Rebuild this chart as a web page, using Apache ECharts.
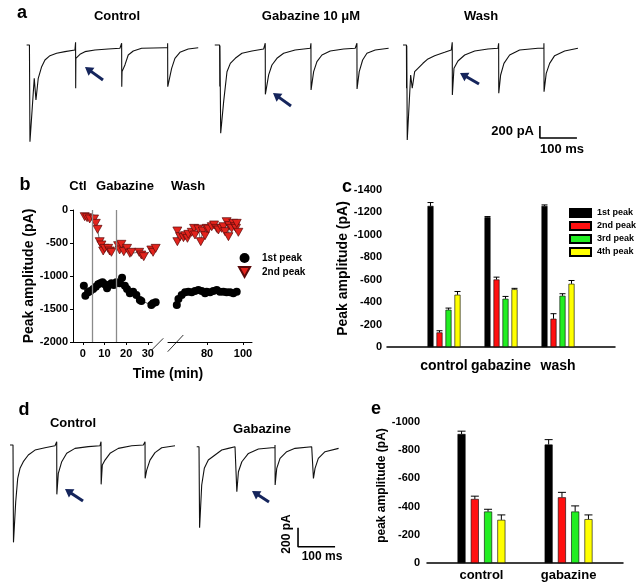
<!DOCTYPE html>
<html><head><meta charset="utf-8">
<script src="https://cdn.jsdelivr.net/npm/echarts@6/dist/echarts.min.js"></script>
<style>html,body{margin:0;padding:0;background:#fff}#c{width:638px;height:583px}</style>
</head><body><div id="c"></div>
<script>
// ---------- DATA ----------
// Panel a traces: [time (ms), current (pA)]
const aControl = [[-9,33],[-1.4,33],[0,-1581],[11.6,-523],[16.2,-885],[22.4,-523],[31.6,-329],[40.5,-217],[54,-145],[72,-105],[94.5,-78],[121.5,-50],[123.2,78],[123.5,-690],[124,-189],[135,-122],[148.5,-78],[175.5,-50],[211,-33],[243,-22],[247.4,-22],[247.6,62],[247.9,-663],[248.7,-412],[256.5,-300],[265.4,-134],[279,-67],[301.6,-22],[364.5,-12],[371.6,-12],[371.8,62],[372.1,-663],[375,-580],[382.6,-356],[391.5,-189],[405,-89],[427.4,-33],[454.4,-12]];
const aGabazine = [[-14,33],[-1,33],[-0.5,-660],[0,20],[2,-1441],[10,-913],[19,-414],[28,-274],[41.3,-189],[59.4,-105],[86.4,-67],[118,-33],[122,-33],[122.3,62],[122.6,-790],[131.5,-467],[140.4,-301],[153.9,-189],[172,-105],[203,-50],[244,-22],[245.5,-22],[245.7,62],[246,-718],[253,-412],[261.9,-245],[275.4,-134],[297.8,-67],[334,-33],[365.3,-22],[369.7,-22],[369.9,62],[370.2,-701],[376.1,-412],[385.3,-217],[396.9,-105],[419.3,-50],[455.5,-22]];
const aWash = [[-10.8,33],[-1.4,33],[-1,-690],[-0.5,20],[0.8,-1553],[10,-467],[14.3,-689],[20.8,-412],[29.7,-356],[43.2,-272],[56.7,-200],[74.8,-145],[101.8,-89],[119.7,-50],[122.1,-50],[122.3,78],[122.6,-802],[127,-356],[137.7,-234],[155.9,-134],[182.9,-67],[218.7,-33],[245.7,-22],[247.4,-22],[247.6,62],[247.9,-773],[253,-468],[261.9,-273],[277.3,-134],[304.3,-50],[353.7,-22],[369.7,-22],[369.9,62],[370.2,-746],[376.1,-440],[385.3,-273],[398.8,-145],[425.8,-67],[461.7,-22]];
const aScaleBar = [[359,-1320],[359,-1520],[459,-1520]];   // 200 pA / 100 ms

// Panel b: [time (min), peak amplitude (pA)]
const bFirstEarly = [[0.5,-1146],[1.2,-1298],[2.5,-1247],[3.5,-1227],[4.8,-1197],[6.0,-1162],[7.1,-1126],[8.1,-1111],[9.1,-1096],[10.1,-1126],[11.2,-1187],[12.1,-1136],[13.2,-1111],[14.3,-1136],[15.5,-1096],[17.0,-1111],[18.1,-1025],[19.4,-1146],[20.4,-1197],[21.7,-1263],[23.2,-1237],[24.7,-1288],[26.3,-1364],[27.0,-1379],[31.6,-1439],[32.4,-1414],[33.6,-1399]];
const bSecondEarly = [[0.9,-101],[2.0,-116],[3.2,-136],[5.2,-136],[6.0,-202],[6.8,-293],[7.8,-480],[8.6,-530],[9.4,-621],[10.1,-581],[11.7,-581],[12.4,-621],[13.2,-641],[16.3,-540],[17.0,-606],[17.8,-520],[18.9,-631],[20.4,-581],[21.7,-656],[22.4,-641],[26.0,-641],[27.0,-682],[28.1,-707],[31.6,-606],[32.4,-641],[33.6,-581]];
const bFirstLate = [[63.2,-1439],[64.1,-1348],[65.9,-1288],[67.8,-1247],[69.6,-1237],[71.5,-1247],[73.3,-1227],[75.2,-1212],[77.0,-1227],[78.9,-1263],[79.8,-1237],[81.7,-1247],[83.5,-1227],[85.4,-1212],[87.2,-1237],[89.1,-1237],[90.9,-1247],[92.8,-1247],[94.6,-1263],[96.5,-1237]];
const bSecondLate = [[63.5,-480],[63.5,-318],[65.0,-404],[66.9,-419],[67.8,-389],[69.1,-429],[69.6,-369],[71.5,-338],[72.8,-278],[73.3,-379],[75.2,-288],[76.5,-480],[77.6,-318],[78.9,-389],[79.8,-278],[80.7,-288],[82.6,-253],[83.9,-227],[85.4,-278],[86.3,-303],[88.1,-278],[89.1,-253],[90.0,-328],[90.9,-177],[91.9,-404],[92.4,-237],[93.7,-278],[94.6,-202],[95.6,-253],[96.1,-278],[96.5,-202],[97.4,-338]];
const bDrugLines = [4.5, 15.5];
const bTicksEarly = [0, 10, 20, 30];
const bTicksLate = [80, 100];

// Panel c
const peakNames = ['1st peak', '2nd peak', '3rd peak', '4th peak'];
const cSlots = ['', 'control', 'gabazine', 'wash', ''];
const cMeans = [[-1258,-1157,-1258],[-130,-602,-252],[-332,-430,-457],[-466,-515,-564]];
const cErrs  = [[30,6,9],[15,21,45],[15,21,18],[29,8,29]];

// Panel d traces
const dControl = [[-8.9,0],[-0.8,0],[0.5,-1022],[6.5,-595],[11.9,-350],[18.1,-245],[27,-175],[40.5,-105],[58.6,-53],[85.6,-28],[112.6,-7],[117,-7],[117.2,35],[117.5,-518],[121.5,-298],[130.7,-175],[144.2,-87],[166.6,-35],[202.5,-17],[234.1,-7],[236.6,-7],[236.8,35],[237.1,-413],[240.3,-210],[247.6,-158],[261.1,-87],[283.5,-35],[319.7,-7],[351,0],[355.4,0],[355.6,35],[355.9,-350],[360.1,-263],[369,-158],[382.5,-80],[400.6,-28],[436.5,-7]];
const dGabazine = [[-7,0],[-0.8,0],[0.8,-851],[6.5,-402],[13.5,-227],[24.3,-140],[42.4,-87],[60.5,-35],[78.3,-17],[96.4,0],[100.8,0],[101,18],[101.3,-472],[105.6,-263],[114.8,-158],[132.6,-70],[159.6,-24],[195.8,-10],[204.2,-10],[204.4,18],[204.7,-402],[209,-227],[217.9,-122],[236,-52],[258.4,-17],[303.4,0],[307.6,0],[307.8,18],[308.1,-332],[312.4,-227],[321.3,-122],[339.4,-52],[376,-17]];
const dScaleBar = [[266.5,-850],[266.5,-1050],[366.5,-1050]];

// Panel e
const eSlots = ['', '', 'control', '', '', '', 'gabazine', '', ''];
const eGroupSlot = [2, 6];
const eMeans = [[-915,-840],[-454,-466],[-365,-365],[-306,-311]];
const eErrs  = [[20,35],[20,35],[16,40],[35,30]];

// ---------- STYLE ----------
const F = "'Liberation Sans', Arial, Helvetica, sans-serif";
const barColors = ['#000000', '#ff1010', '#22ee22', '#ffff00'];
const TRI = 'path://M0,0L10,0L5,9Z';
const navy = '#15255c';
const plain = v => String(v);

const chart = echarts.init(document.getElementById('c'), null, {renderer: 'canvas'});

function hiddenX(g, min, max) { return {type:'value', gridIndex:g, min, max, show:false}; }
function hiddenY(g, min, max) { return {type:'value', gridIndex:g, min, max, show:false}; }
const lbl = (size, margin) => ({fontWeight:'bold', fontSize:size, color:'#000', fontFamily:F, margin, formatter:plain});
const blackLine = {show:true, onZero:false, lineStyle:{color:'#000', width:1}};

function trace(name, g, data) {
  return {type:'line', name, xAxisIndex:g, yAxisIndex:g, data, symbol:'none', clip:false,
    lineStyle:{color:'#111', width:1.1}, z:2};
}
function scaleBar(g, data) {
  return {type:'line', xAxisIndex:g, yAxisIndex:g, data, symbol:'none', clip:false,
    lineStyle:{color:'#000', width:1.6}};
}
function errSeries(g, items, offsets, cap) {
  return {type:'custom', xAxisIndex:g, yAxisIndex:g, data:items, z:5, clip:false,
    renderItem(params, api) {
      const slot = api.value(0), v = api.value(1), e = api.value(2), k = api.value(3);
      const p0 = api.coord([slot, v]), p1 = api.coord([slot, v - e]);
      const x = p0[0] + offsets[k];
      return {type:'group', children:[
        {type:'line', shape:{x1:x, y1:p0[1], x2:x, y2:p1[1]}, style:{stroke:'#000', lineWidth:1}},
        {type:'line', shape:{x1:x-cap, y1:p1[1], x2:x+cap, y2:p1[1]}, style:{stroke:'#000', lineWidth:1}}
      ]};
    }};
}

// bars c
const cSeries = [], cErrItems = [];
peakNames.forEach((n, k) => {
  const data = cSlots.map(() => '-');
  cMeans[k].forEach((v, gi) => { data[gi + 1] = v; cErrItems.push([gi + 1, v, cErrs[k][gi], k]); });
  cSeries.push({type:'bar', name:'c ' + n, xAxisIndex:5, yAxisIndex:5, data, barWidth:6, barGap:'50%',
    itemStyle:{color:barColors[k], borderColor:'#000', borderWidth:0.6}});
});
// bars e
const eSeries = [], eErrItems = [];
peakNames.forEach((n, k) => {
  const data = eSlots.map(() => '-');
  eMeans[k].forEach((v, gi) => { data[eGroupSlot[gi]] = v; eErrItems.push([eGroupSlot[gi], v, eErrs[k][gi], k]); });
  eSeries.push({type:'bar', name:'e ' + n, xAxisIndex:8, yAxisIndex:8, data, barWidth:8, barGap:'66%',
    itemStyle:{color:barColors[k], borderColor:'#000', borderWidth:0.6}});
});

// graphic helpers
function txt(x, y, s, size, align, rot) {
  const o = {type:'text', x, y, silent:true, style:{text:s, font:`bold ${size}px ${F}`, fill:'#000',
    align:align || 'center', verticalAlign:'middle', textAlign:align || 'center', textVerticalAlign:'middle'}};
  if (rot) o.rotation = rot;
  return o;
}
function arrow(tx, ty, sx, sy) {
  const dx = tx - sx, dy = ty - sy, L = Math.hypot(dx, dy), ux = dx / L, uy = dy / L;
  const hl = 8, hw = 5, bx = tx - ux * hl, by = ty - uy * hl;
  return {type:'group', silent:true, children:[
    {type:'line', shape:{x1:sx, y1:sy, x2:bx + ux, y2:by + uy}, style:{stroke:navy, lineWidth:3}},
    {type:'polygon', shape:{points:[[tx, ty], [bx - uy * hw, by + ux * hw], [bx + uy * hw, by - ux * hw]]}, style:{fill:navy}}
  ]};
}
function seg(x1, y1, x2, y2) {
  return {type:'line', silent:true, shape:{x1, y1, x2, y2}, style:{stroke:'#333', lineWidth:1}};
}

const option = {
  animation:false,
  backgroundColor:'#fff',
  grid:[
    {left:24.4, top:35, width:179.6, height:113.8},
    {left:214.4, top:35, width:179.6, height:113.8},
    {left:401.4, top:35, width:179.6, height:113.8},
    {left:73, top:210, width:79.2, height:132},
    {left:168, top:210, width:84, height:132},
    {left:387, top:190, width:228, height:157},
    {left:9.6, top:435.5, width:170.4, height:114.3},
    {left:195.6, top:437.2, width:170.4, height:114.3},
    {left:427, top:422, width:196, height:141}
  ],
  xAxis:[
    hiddenX(0, -15, 470), hiddenX(1, -15, 470), hiddenX(2, -15, 470),
    {type:'value', gridIndex:3, min:-4.5, max:32, axisLine:blackLine,
      axisTick:{show:true, length:3, customValues:bTicksEarly, lineStyle:{color:'#000'}},
      axisLabel:Object.assign(lbl(11, 6), {customValues:bTicksEarly}), splitLine:{show:false}},
    {type:'value', gridIndex:4, min:58.3, max:105, axisLine:blackLine,
      axisTick:{show:true, length:3, customValues:bTicksLate, lineStyle:{color:'#000'}},
      axisLabel:Object.assign(lbl(11, 6), {customValues:bTicksLate}), splitLine:{show:false}},
    {type:'category', gridIndex:5, data:cSlots, boundaryGap:false,
      axisLine:{onZero:false, lineStyle:{color:'#000', width:1.5}}, axisTick:{show:false},
      axisLabel:{fontWeight:'bold', fontSize:14, color:'#000', fontFamily:F, margin:12, interval:0}},
    hiddenX(6, -10, 450), hiddenX(7, -10, 450),
    {type:'category', gridIndex:8, data:eSlots, boundaryGap:true,
      axisLine:{onZero:false, lineStyle:{color:'#000', width:1.5}}, axisTick:{show:false},
      axisLabel:{fontWeight:'bold', fontSize:13, color:'#000', fontFamily:F, margin:6, interval:0}}
  ],
  yAxis:[
    hiddenY(0, -1700, 200), hiddenY(1, -1700, 200), hiddenY(2, -1700, 200),
    {type:'value', gridIndex:3, min:-2000, max:0, interval:500, axisLine:blackLine,
      axisTick:{show:true, length:3, lineStyle:{color:'#000'}}, axisLabel:lbl(11, 5), splitLine:{show:false},
      name:'Peak amplitude (pA)', nameLocation:'middle', nameGap:37,
      nameTextStyle:{fontWeight:'bold', fontSize:14, color:'#000', fontFamily:F}},
    hiddenY(4, -2000, 0),
    {type:'value', gridIndex:5, inverse:true, min:-1400, max:0, interval:200,
      axisLine:{show:false}, axisTick:{show:false}, splitLine:{show:false}, axisLabel:lbl(11, 5),
      name:'Peak amplitude (pA)', nameLocation:'middle', nameGap:37,
      nameTextStyle:{fontWeight:'bold', fontSize:14, color:'#000', fontFamily:F}},
    hiddenY(6, -1100, 100), hiddenY(7, -1100, 100),
    {type:'value', gridIndex:8, inverse:true, min:-1000, max:0, interval:200,
      axisLine:{show:false}, axisTick:{show:false}, splitLine:{show:false}, axisLabel:lbl(11, 7),
      name:'peak amplitude (pA)', nameLocation:'middle', nameGap:38,
      nameTextStyle:{fontWeight:'bold', fontSize:12, color:'#000', fontFamily:F, padding:[0,0,0,14]}}
  ],
  legend:[
    {left:238, top:253, padding:0, orient:'vertical', itemWidth:25, itemHeight:10, itemGap:3, selectedMode:false,
      textStyle:{fontWeight:'bold', fontSize:10, color:'#000', fontFamily:F},
      data:[{name:'1st peak', icon:'circle'}, {name:'2nd peak', icon:TRI}]},
    {left:569, top:208, padding:0, orient:'vertical', itemWidth:21, itemHeight:8, itemGap:3, selectedMode:false, icon:'rect',
      formatter:n => n.slice(2),
      textStyle:{fontWeight:'bold', fontSize:9, color:'#000', fontFamily:F, padding:[0,0,0,1]},
      data:peakNames.map(n => 'c ' + n)}
  ],
  series:[
    trace('Control', 0, aControl), trace('Gabazine', 1, aGabazine), trace('Wash', 2, aWash), scaleBar(2, aScaleBar),
    {type:'line', name:'1st peak', xAxisIndex:3, yAxisIndex:3, data:bFirstEarly, symbol:'circle', symbolSize:8, clip:false,
      itemStyle:{color:'#000'}, lineStyle:{color:'#333', width:0.8},
      markLine:{symbol:'none', silent:true, label:{show:false}, lineStyle:{color:'#8a8a8a', width:1.3, type:'solid'},
        data:bDrugLines.map(v => ({xAxis:v}))}},
    {type:'line', name:'2nd peak', xAxisIndex:3, yAxisIndex:3, data:bSecondEarly, symbol:TRI, symbolSize:[9,8], clip:false,
      itemStyle:{color:'#e3231c', borderColor:'#5a0a0a', borderWidth:0.7}, lineStyle:{color:'#555', width:0.8}},
    {type:'line', name:'1st peak', xAxisIndex:4, yAxisIndex:4, data:bFirstLate, symbol:'circle', symbolSize:8, clip:false,
      itemStyle:{color:'#000'}, lineStyle:{color:'#333', width:0.8}},
    {type:'line', name:'2nd peak', xAxisIndex:4, yAxisIndex:4, data:bSecondLate, symbol:TRI, symbolSize:[9,8], clip:false,
      itemStyle:{color:'#e3231c', borderColor:'#5a0a0a', borderWidth:0.7}, lineStyle:{color:'#555', width:0.8}},
    ...cSeries, errSeries(5, cErrItems, [-13.5, -4.5, 4.5, 13.5], 3),
    trace('Control d', 6, dControl), trace('Gabazine d', 7, dGabazine), scaleBar(7, dScaleBar),
    ...eSeries, errSeries(8, eErrItems, [-19.9, -6.6, 6.6, 19.9], 4)
  ],
  graphic:[
    txt(22, 13, 'a', 18), txt(117, 16, 'Control', 13), txt(311, 16, 'Gabazine 10 μM', 13), txt(481, 16, 'Wash', 13),
    txt(534, 131, '200 pA', 13, 'right'), txt(562, 149, '100 ms', 13),
    arrow(85, 67, 103, 80), arrow(273, 93, 291, 106), arrow(460, 73, 479, 84),
    txt(25, 185, 'b', 18), txt(78, 186, 'Ctl', 13), txt(125, 186, 'Gabazine', 13), txt(188, 186, 'Wash', 13),
    txt(168, 374, 'Time (min)', 14),
    seg(151.7, 350, 163.3, 338.3), seg(167.7, 351.7, 183.3, 335),
    txt(347, 187, 'c', 18),
    txt(24, 410, 'd', 18), txt(73, 423, 'Control', 13), txt(262, 429, 'Gabazine', 13),
    arrow(65, 489, 83, 501), arrow(252, 491, 269, 502),
    txt(287, 534, '200 pA', 12, 'center', Math.PI / 2), txt(322, 557, '100 ms', 12),
    txt(376, 409, 'e', 18)
  ]
};
chart.setOption(option);
</script></body></html>
